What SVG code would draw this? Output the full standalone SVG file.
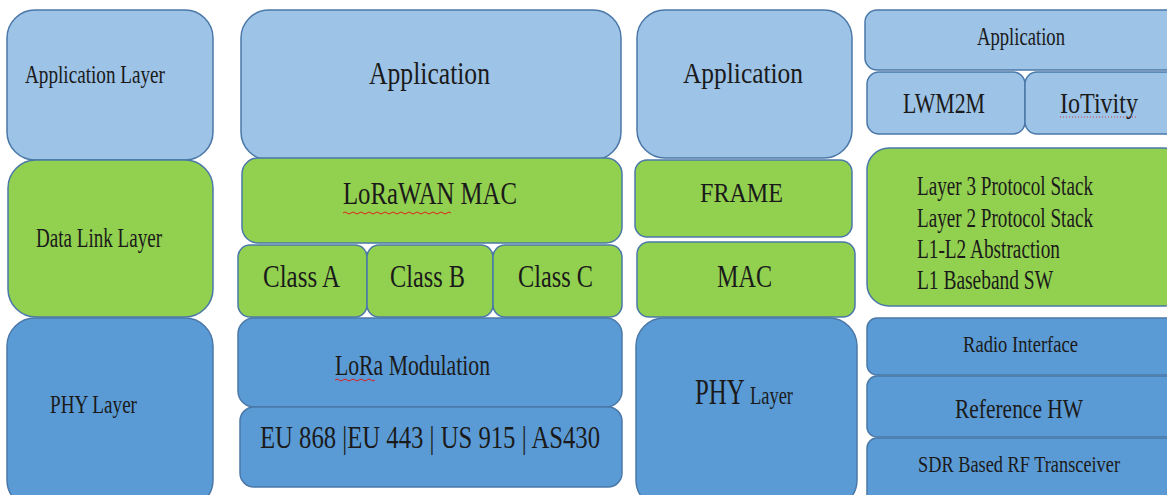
<svg xmlns="http://www.w3.org/2000/svg" width="1167" height="495" viewBox="0 0 1167 495">
<defs>
<path id="wave" d="M0 0 q2 -2 4 0 t4 0 t4 0 t4 0 t4 0 t4 0 t4 0 t4 0 t4 0 t4 0 t4 0 t4 0 t4 0 t4 0 t4 0 t4 0 t4 0 t4 0 t4 0 t4 0 t4 0 t4 0 t4 0 t4 0 t4 0 t4 0 t4 0"/>
</defs>
<rect width="1167" height="495" fill="#ffffff"/>
<g stroke="#4a78a8" stroke-width="1.5">
<g id="c1-app"><rect fill="#9dc3e6" x="7" y="10" width="206" height="150" rx="28"/>
<text stroke="none" fill="#1a1a1a" font-family="Liberation Serif" x="25" y="83" font-size="26" textLength="140" lengthAdjust="spacingAndGlyphs">Application Layer</text></g>
<g id="c1-dll"><rect fill="#92d050" x="8" y="160" width="205" height="157" rx="28"/>
<text stroke="none" fill="#1a1a1a" font-family="Liberation Serif" x="36" y="247" font-size="27" textLength="126" lengthAdjust="spacingAndGlyphs">Data Link Layer</text></g>
<g id="c1-phy"><rect fill="#5b9bd5" x="7" y="318" width="206" height="190" rx="28"/>
<text stroke="none" fill="#1a1a1a" font-family="Liberation Serif" x="50" y="413" font-size="26" textLength="87" lengthAdjust="spacingAndGlyphs">PHY Layer</text></g>
<g id="c2-app"><rect fill="#9dc3e6" x="241" y="10" width="380" height="150" rx="28"/>
<text stroke="none" fill="#1a1a1a" font-family="Liberation Serif" x="369" y="84" font-size="32" textLength="121" lengthAdjust="spacingAndGlyphs">Application</text></g>
<g id="c2-mac"><rect fill="#92d050" x="242" y="158" width="380" height="85" rx="16"/>
<text stroke="none" fill="#1a1a1a" font-family="Liberation Serif" x="343" y="204" font-size="31" textLength="174" lengthAdjust="spacingAndGlyphs">LoRaWAN MAC</text>
<use href="#wave" x="343" y="213" fill="none" stroke="#e02020" stroke-width="1"/></g>
<g id="c2-ca"><rect fill="#92d050" x="238" y="245" width="129" height="72" rx="12"/>
<text stroke="none" fill="#1a1a1a" font-family="Liberation Serif" x="263" y="287" font-size="32" textLength="77" lengthAdjust="spacingAndGlyphs">Class A</text></g>
<g id="c2-cb"><rect fill="#92d050" x="367" y="245" width="126" height="72" rx="12"/>
<text stroke="none" fill="#1a1a1a" font-family="Liberation Serif" x="390" y="287" font-size="32" textLength="75" lengthAdjust="spacingAndGlyphs">Class B</text></g>
<g id="c2-cc"><rect fill="#92d050" x="493" y="245" width="129" height="72" rx="12"/>
<text stroke="none" fill="#1a1a1a" font-family="Liberation Serif" x="518" y="287" font-size="32" textLength="75" lengthAdjust="spacingAndGlyphs">Class C</text></g>
<g id="c2-lora"><rect fill="#5b9bd5" x="238" y="318" width="384" height="89" rx="16"/>
<text stroke="none" fill="#1a1a1a" font-family="Liberation Serif" x="335" y="375" font-size="29" textLength="155" lengthAdjust="spacingAndGlyphs">LoRa Modulation</text>
<path d="M335 380 q2 -2 4 0 t4 0 t4 0 t4 0 t4 0 t4 0 t4 0 t4 0 t4 0 t4 0" fill="none" stroke="#e02020" stroke-width="1"/></g>
<g id="c2-eu"><rect fill="#5b9bd5" x="240" y="407" width="382" height="80" rx="14"/>
<text stroke="none" fill="#1a1a1a" font-family="Liberation Serif" x="260" y="448" font-size="31" textLength="340" lengthAdjust="spacingAndGlyphs">EU 868 |EU 443 | US 915 | AS430</text></g>
<g id="c3-app"><rect fill="#9dc3e6" x="637" y="10" width="215" height="148" rx="28"/>
<text stroke="none" fill="#1a1a1a" font-family="Liberation Serif" x="683" y="83" font-size="30" textLength="120" lengthAdjust="spacingAndGlyphs">Application</text></g>
<g id="c3-frame"><rect fill="#92d050" x="635" y="160" width="217" height="77" rx="12"/>
<text stroke="none" fill="#1a1a1a" font-family="Liberation Serif" x="700" y="202" font-size="28" textLength="83" lengthAdjust="spacingAndGlyphs">FRAME</text></g>
<g id="c3-mac"><rect fill="#92d050" x="637" y="242" width="218" height="75" rx="12"/>
<text stroke="none" fill="#1a1a1a" font-family="Liberation Serif" x="717" y="287" font-size="32" textLength="55" lengthAdjust="spacingAndGlyphs">MAC</text></g>
<g id="c3-phy"><rect fill="#5b9bd5" x="636" y="318" width="221" height="190" rx="28"/>
<text stroke="none" fill="#1a1a1a" font-family="Liberation Serif" x="695" y="404" font-size="35" textLength="98" lengthAdjust="spacingAndGlyphs">PHY <tspan font-size="26">Layer</tspan></text></g>
<g id="c4-app"><rect fill="#9dc3e6" x="865" y="10" width="320" height="60" rx="12"/>
<text stroke="none" fill="#1a1a1a" font-family="Liberation Serif" x="977" y="45" font-size="25" textLength="88" lengthAdjust="spacingAndGlyphs">Application</text></g>
<g id="c4-lwm"><rect fill="#9dc3e6" x="867" y="72" width="158" height="62" rx="12"/>
<text stroke="none" fill="#1a1a1a" font-family="Liberation Serif" x="903" y="113" font-size="29" textLength="82" lengthAdjust="spacingAndGlyphs">LWM2M</text></g>
<g id="c4-iot"><rect fill="#9dc3e6" x="1025" y="72" width="160" height="62" rx="12"/>
<text stroke="none" fill="#1a1a1a" font-family="Liberation Serif" x="1060" y="113" font-size="29" textLength="78" lengthAdjust="spacingAndGlyphs">IoTivity</text>
<path d="M1060 117 h78" stroke="#d04040" stroke-width="1" stroke-dasharray="1 2" fill="none"/></g>
<g id="c4-stack"><rect fill="#92d050" x="867" y="148" width="318" height="158" rx="22"/>
<text stroke="none" fill="#1a1a1a" font-family="Liberation Serif" x="917" y="195" font-size="27" textLength="176" lengthAdjust="spacingAndGlyphs">Layer 3 Protocol Stack</text>
<text stroke="none" fill="#1a1a1a" font-family="Liberation Serif" x="917" y="227" font-size="27" textLength="176" lengthAdjust="spacingAndGlyphs">Layer 2 Protocol Stack</text>
<text stroke="none" fill="#1a1a1a" font-family="Liberation Serif" x="917" y="258" font-size="27" textLength="143" lengthAdjust="spacingAndGlyphs">L1-L2 Abstraction</text>
<text stroke="none" fill="#1a1a1a" font-family="Liberation Serif" x="917" y="289" font-size="27" textLength="136" lengthAdjust="spacingAndGlyphs">L1 Baseband SW</text></g>
<g id="c4-radio"><rect fill="#5b9bd5" x="867" y="318" width="318" height="57" rx="10"/>
<text stroke="none" fill="#1a1a1a" font-family="Liberation Serif" x="963" y="352" font-size="24" textLength="115" lengthAdjust="spacingAndGlyphs">Radio Interface</text></g>
<g id="c4-ref"><rect fill="#5b9bd5" x="867" y="376" width="318" height="61" rx="10"/>
<text stroke="none" fill="#1a1a1a" font-family="Liberation Serif" x="955" y="418" font-size="27" textLength="128" lengthAdjust="spacingAndGlyphs">Reference HW</text></g>
<g id="c4-sdr"><rect fill="#5b9bd5" x="867" y="438" width="318" height="70" rx="10"/>
<text stroke="none" fill="#1a1a1a" font-family="Liberation Serif" x="918" y="472" font-size="23" textLength="202" lengthAdjust="spacingAndGlyphs">SDR Based RF Transceiver</text></g>
</g>
<g id="connectors"></g>
</svg>
